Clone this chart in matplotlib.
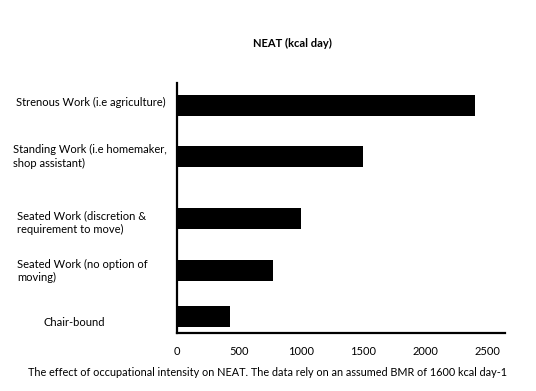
# ===================
# Part 1: Importing Libraries
# ===================
import matplotlib.pyplot as plt
import matplotlib.transforms as mtransforms

# ===================
# Part 2: Data Preparation
# ===================
categories = [
    "Strenous Work (i.e agriculture)",
    "Standing Work (i.e homemaker,\nshop assistant)",
    "Seated Work (discretion &\nrequirement to move)",
    "Seated Work (no option of\nmoving)",
    "Chair-bound",
]
neat_kcal = [2400, 1500, 1000, 775, 425]
x_ticks = [0, 500, 1000, 1500, 2000, 2500]
title = "NEAT (kcal day)"
caption = "The effect of occupational intensity on NEAT. The data rely on an assumed BMR of 1600 kcal day-1"

# ===================
# Part 3: Plot Configuration and Rendering
# ===================
plt.rcParams["font.family"] = ["Lato", "DejaVu Sans"]

fig = plt.figure(figsize=(5.36, 3.91), dpi=100)
ax = fig.add_axes([0.330, 0.1483, 0.612, 0.6394])

# bar centres (uneven spacing as in the original)
y_pos = [4.55, 3.53, 2.29, 1.26, 0.33]
ax.barh(y_pos, neat_kcal, height=0.42, color="black")

ax.set_xlim(0, 2643)
ax.set_ylim(0, 5)
ax.set_xticks(x_ticks)
ax.set_xticklabels([str(t) for t in x_ticks], fontsize=8)
ax.tick_params(axis="x", length=0, pad=9)
ax.set_yticks([])

for side in ["top", "right"]:
    ax.spines[side].set_visible(False)
for side in ["left", "bottom"]:
    ax.spines[side].set_linewidth(1.6)

# category labels placed at figure x, data y
trans = mtransforms.blended_transform_factory(fig.transFigure, ax.transData)
label_x = [16, 13, 17, 17, 43]
label_dy = [0.07, 0.0, -0.08, -0.02, -0.12]
for lab, y, lx, dy in zip(categories, y_pos, label_x, label_dy):
    ax.text(lx / 536, y + dy, lab, transform=trans, ha="left", va="center",
            fontsize=8, linespacing=1.25, clip_on=False)

fig.text(292 / 536, 1 - 43 / 391, title, ha="center", va="center",
         fontsize=8, fontweight="bold")
fig.text(267 / 536, 1 - 373 / 391, caption, ha="center", va="center",
         fontsize=7.8)

# ===================
# Part 4: Saving Output
# ===================
fig.savefig("out.png", dpi=100)
